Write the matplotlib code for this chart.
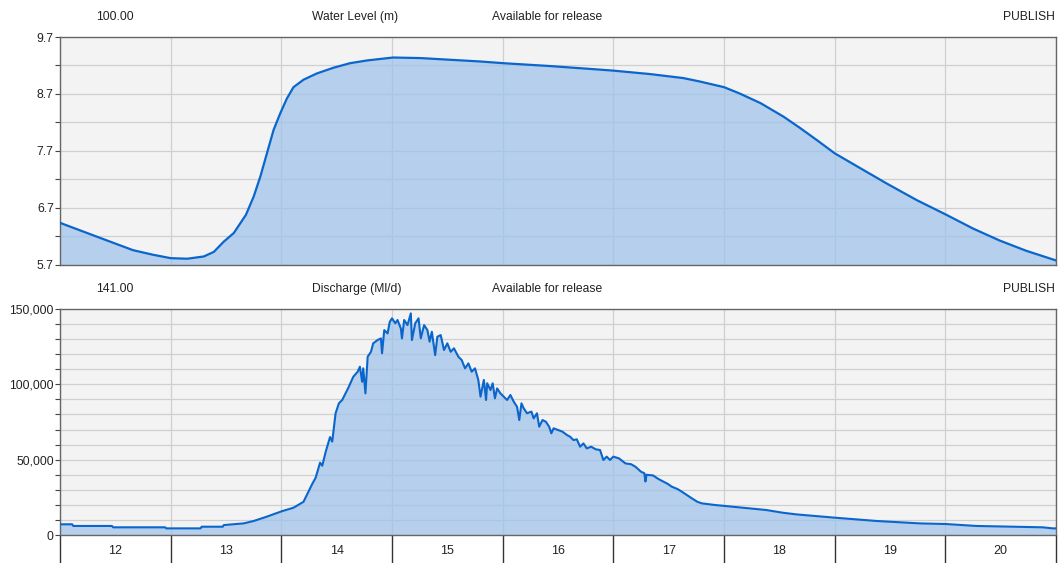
import matplotlib
matplotlib.use('Agg')
import matplotlib.pyplot as plt
from matplotlib.ticker import MultipleLocator, FixedLocator, FuncFormatter, NullFormatter

plt.rcParams['font.family'] = ['Liberation Sans', 'DejaVu Sans']

# ---------------- data ----------------
level_day = [12.00, 12.37, 12.66, 12.84, 13.00, 13.15, 13.30, 13.39, 13.48, 13.57,
             13.68, 13.75, 13.81, 13.87, 13.93, 13.99, 14.05, 14.11, 14.20, 14.32,
             14.47, 14.62, 14.78, 15.01, 15.26, 15.53, 15.80, 16.01, 16.43, 16.79,
             17.00, 17.33, 17.63, 17.78, 18.00, 18.14, 18.33, 18.54, 18.69, 18.84,
             19.00, 19.23, 19.47, 19.74, 20.01, 20.25, 20.49, 20.73, 21.00]
level_m = [6.44, 6.17, 5.96, 5.88, 5.82, 5.81, 5.85, 5.93, 6.11, 6.26,
           6.58, 6.90, 7.25, 7.66, 8.07, 8.36, 8.62, 8.82, 8.95, 9.06,
           9.16, 9.24, 9.29, 9.34, 9.33, 9.30, 9.27, 9.24, 9.19, 9.14,
           9.11, 9.05, 8.98, 8.92, 8.82, 8.71, 8.54, 8.30, 8.10, 7.89,
           7.66, 7.40, 7.13, 6.84, 6.58, 6.34, 6.13, 5.95, 5.78]

flow_day = [12.00, 12.11, 12.12, 12.47, 12.48, 12.95, 12.96, 13.27, 13.28, 13.47,
            13.48, 13.66, 13.75, 13.87, 14.01, 14.11, 14.20, 14.22, 14.28, 14.31,
            14.35, 14.37, 14.40, 14.44, 14.46, 14.49, 14.52, 14.55, 14.58, 14.61,
            14.65, 14.69, 14.71, 14.73, 14.74, 14.76, 14.78, 14.81, 14.83, 14.87,
            14.90, 14.91, 14.93, 14.96, 14.98, 15.00, 15.03, 15.05, 15.08, 15.09,
            15.11, 15.14, 15.17, 15.18, 15.21, 15.24, 15.26, 15.29, 15.32, 15.34,
            15.36, 15.39, 15.41, 15.44, 15.47, 15.50, 15.53, 15.56, 15.60, 15.63,
            15.66, 15.69, 15.72, 15.75, 15.78, 15.80, 15.83, 15.85, 15.86, 15.89,
            15.91, 15.93, 15.95, 15.98, 16.01, 16.04, 16.07, 16.10, 16.13, 16.15,
            16.17, 16.19, 16.22, 16.26, 16.28, 16.31, 16.33, 16.36, 16.39, 16.42,
            16.44, 16.46, 16.50, 16.54, 16.58, 16.61, 16.64, 16.67, 16.70, 16.73,
            16.76, 16.80, 16.84, 16.88, 16.91, 16.94, 16.97, 17.00, 17.05, 17.11,
            17.16, 17.20, 17.25, 17.28, 17.29, 17.30, 17.36, 17.40, 17.45, 17.49,
            17.53, 17.58, 17.62, 17.71, 17.76, 17.80, 17.92, 18.07, 18.23, 18.38,
            18.53, 18.65, 19.00, 19.38, 19.77, 20.00, 20.28, 20.88, 20.97, 21.00]
flow_mld = [7100, 7100, 6000, 6000, 5100, 5100, 4400, 4400, 5500, 5500,
            6600, 7700, 9300, 12200, 15900, 18100, 22000, 25000, 34000, 38000,
            48000, 46000, 55000, 65000, 62000, 80700, 87400, 89600, 94000, 98400,
            105000, 108400, 111700, 101700, 110600, 94000, 118300, 121600, 127200, 129400,
            130500, 120600, 136000, 133800, 141500, 143800, 140500, 142700, 137100, 130500,
            142700, 139300, 147100, 129400, 140500, 143800, 130500, 139300, 136000, 128300,
            134900, 119400, 131600, 132700, 122800, 127200, 121600, 123900, 118300, 116100,
            110600, 113900, 108400, 110600, 102900, 91800, 102900, 89600, 100700, 96200,
            100700, 90700, 97300, 94000, 91800, 89600, 92900, 88500, 85100, 76300,
            87400, 84100, 80800, 81900, 77400, 80800, 71900, 76300, 75200, 71900,
            67500, 70800, 69700, 68600, 66400, 65200, 63000, 63500, 58600, 60800,
            57500, 58600, 56900, 56400, 49800, 52000, 49800, 52000, 50900, 47500,
            47000, 45300, 42000, 41000, 35500, 40000, 39500, 37500, 35500, 34000,
            32000, 30500, 28700, 24300, 22000, 21000, 19900, 18800, 17700, 16600,
            14800, 13700, 11500, 9300, 7700, 7300, 6000, 5100, 4400, 4400]

day_ticks = [12, 13, 14, 15, 16, 17, 18, 19, 20, 21]
day_labels = ['12', '13', '14', '15', '16', '17', '18', '19', '20']
level_header = ['100.00', 'Water Level (m)', 'Available for release', 'PUBLISH']
flow_header = ['141.00', 'Discharge (Ml/d)', 'Available for release', 'PUBLISH']

# ---------------- style ----------------
W, H = 1060, 563
BG = '#F3F3F3'
GRID = '#CFCFCF'
LINE = '#0A66CC'
FILL = '#A0C4EA'
SPINE = '#666666'
TXT = '#222222'
FS = 8.7

fig = plt.figure(figsize=(W / 100, H / 100), dpi=100)
fig.patch.set_facecolor('white')


def px_axes(left, top, right, bottom):
    return fig.add_axes([left / W, 1 - bottom / H, (right - left) / W, (bottom - top) / H])


def style(ax):
    ax.set_facecolor(BG)
    for s in ax.spines.values():
        s.set_color(SPINE)
        s.set_linewidth(1.0)
    ax.set_axisbelow(True)
    ax.set_xlim(day_ticks[0], day_ticks[-1])
    ax.xaxis.set_major_locator(FixedLocator(day_ticks))
    ax.xaxis.grid(True, which='major', color=GRID, lw=0.9)
    ax.yaxis.grid(True, which='both', color=GRID, lw=0.9)
    ax.tick_params(axis='y', which='both', direction='out', length=3.5, width=0.8,
                   color='#444444', labelsize=FS, labelcolor=TXT, pad=1)


def header(ax, texts, ypx):
    y = 1 - ypx / H
    fig.text(96 / W, y, texts[0], fontsize=FS, color=TXT, ha='left', va='center')
    fig.text(312 / W, y, texts[1], fontsize=FS, color=TXT, ha='left', va='center')
    fig.text(492 / W, y, texts[2], fontsize=FS, color=TXT, ha='left', va='center')
    fig.text(1055 / W, y, texts[3], fontsize=FS, color=TXT, ha='right', va='center')


# ---- top: water level ----
ax1 = px_axes(60, 37, 1056, 265)
style(ax1)
ax1.fill_between(level_day, 5.7, level_m, color=FILL, alpha=0.75, lw=0, zorder=2)
ax1.plot(level_day, level_m, color=LINE, lw=1.6, zorder=3)
ax1.set_ylim(5.7, 9.7)
ax1.yaxis.set_major_locator(FixedLocator([5.7, 6.7, 7.7, 8.7, 9.7]))
ax1.yaxis.set_major_formatter(FuncFormatter(lambda v, p: f'{v:.1f}'))
ax1.yaxis.set_minor_locator(FixedLocator([6.2, 7.2, 8.2, 9.2]))
ax1.tick_params(axis='x', which='both', length=0, labelbottom=False)
header(ax1, level_header, 17)

# ---- bottom: discharge ----
ax2 = px_axes(60, 309, 1056, 535)
style(ax2)
ax2.fill_between(flow_day, 0, flow_mld, color=FILL, alpha=0.75, lw=0, zorder=2)
ax2.plot(flow_day, flow_mld, color=LINE, lw=1.5, zorder=3)
ax2.set_ylim(0, 150000)
ax2.yaxis.set_major_locator(MultipleLocator(50000))
ax2.yaxis.set_minor_locator(MultipleLocator(10000))
ax2.yaxis.set_major_formatter(FuncFormatter(lambda v, p: f'{int(v):,}'))
ax2.xaxis.set_major_formatter(NullFormatter())
ax2.xaxis.set_minor_locator(FixedLocator([d + 0.5 for d in day_ticks[:-1]]))
ax2.xaxis.set_minor_formatter(FuncFormatter(lambda v, p: day_labels[int(v - day_ticks[0])]))
ax2.tick_params(axis='x', which='major', direction='out', length=21, width=1.0, color='#333333')
ax2.tick_params(axis='x', which='minor', length=0, labelsize=FS + 0.3, labelcolor=TXT, pad=7)
header(ax2, flow_header, 289)

fig.savefig('out.png', dpi=100, facecolor='white')
